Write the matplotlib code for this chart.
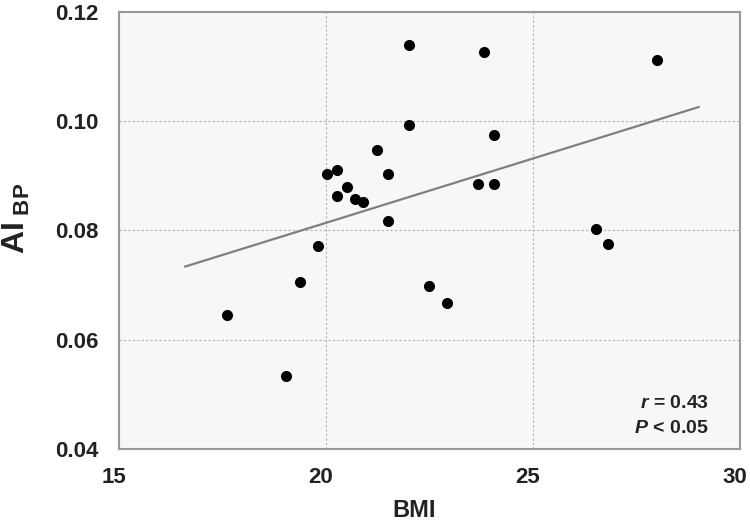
import matplotlib
matplotlib.use("Agg")
import matplotlib.pyplot as plt
import matplotlib.transforms as mtransforms

bmi = [22.00, 22.00, 21.22, 20.02, 20.27, 20.51, 20.27, 20.70, 20.90, 21.49, 21.49,
       23.82, 27.99, 24.07, 23.66, 24.07, 26.53, 26.81, 22.50, 22.92,
       19.81, 19.36, 17.61, 19.03]
ai_bp = [0.1139, 0.0994, 0.0948, 0.0903, 0.0911, 0.0880, 0.0863, 0.0858, 0.0852, 0.0904, 0.0817,
         0.1126, 0.1112, 0.0974, 0.0886, 0.0886, 0.0802, 0.0776, 0.0699, 0.0668,
         0.0771, 0.0706, 0.0646, 0.0534]
line_x = [16.6, 29.0]
line_y = [0.0734, 0.1026]
x_ticks = [15, 20, 25, 30]
y_ticks = [0.04, 0.06, 0.08, 0.10, 0.12]
y_tick_labels = ["0.04", "0.06", "0.08", "0.10", "0.12"]

plt.rcParams['font.family'] = ['Liberation Sans', 'DejaVu Sans']
plt.rcParams['mathtext.fontset'] = 'custom'
plt.rcParams['mathtext.rm'] = 'Liberation Sans:bold'
plt.rcParams['mathtext.bf'] = 'Liberation Sans:bold'
plt.rcParams['mathtext.it'] = 'Liberation Sans:bold:italic'

fig = plt.figure(figsize=(7.5, 5.25), dpi=100)
ax = fig.add_axes([119/750, 1-449/525, (740-119)/750, (449-12)/525])
ax.set_facecolor('#f7f7f7')

ax.plot(line_x, line_y, color='#808080', lw=1.6, zorder=2)
ax.scatter(bmi, ai_bp, s=64, color='black', zorder=3, linewidths=0)

ax.set_xlim(15, 30)
ax.set_ylim(0.04, 0.12)
ax.set_xticks(x_ticks)
ax.set_yticks(y_ticks)
ax.set_yticklabels(y_tick_labels)
ax.grid(True, color='#b0b0b0', linestyle=(0, (2, 2)), lw=0.8)
ax.set_axisbelow(True)
ax.tick_params(axis='x', length=0, labelsize=16, pad=13)
ax.tick_params(axis='y', length=0, labelsize=16, pad=15)
shift = mtransforms.ScaledTranslation(-5/100, 0, fig.dpi_scale_trans)
for lab in ax.get_xticklabels():
    lab.set_transform(lab.get_transform() + shift)
for lab in ax.get_xticklabels() + ax.get_yticklabels():
    lab.set_fontweight('bold')
    lab.set_color('#222222')
for sp in ax.spines.values():
    sp.set_color('#999999')
    sp.set_linewidth(1.5)

ax.set_xlabel('BMI', fontsize=17, fontweight='bold', color='#222222')
ax.xaxis.set_label_coords((414-119)/621, -(499-449)/437)
ax.set_ylabel(r'$\mathbf{AI}_{\ \mathbf{BP}}$', fontsize=23, color='#222222')
ax.yaxis.set_label_coords(-(119-32)/621, (449-218)/437)

ax.text(0.950, 0.105, r'$r$ = 0.43', transform=ax.transAxes, ha='right', va='center',
        fontsize=14, fontweight='bold', color='#222222')
ax.text(0.950, 0.046, r'$P$ < 0.05', transform=ax.transAxes, ha='right', va='center',
        fontsize=14, fontweight='bold', color='#222222')

fig.savefig('out.png', dpi=100)
